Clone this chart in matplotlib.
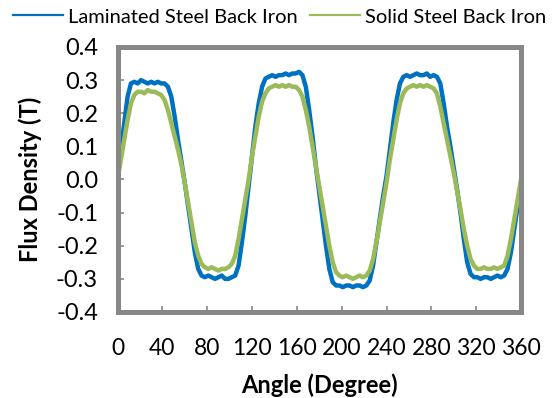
import numpy as np
import matplotlib
matplotlib.use("Agg")
import matplotlib.pyplot as plt
from matplotlib.lines import Line2D

plt.rcParams['font.family'] = ['Lato', 'DejaVu Sans']
plt.rcParams['axes.unicode_minus'] = False

# angle samples (degrees), every 3 degrees
angle = np.arange(0, 361, 3)

# Laminated steel back iron, flux density (T)
laminated = [
    0.00, 0.085, 0.17, 0.25, 0.29, 0.295, 0.29, 0.30, 0.295, 0.29,
    0.295, 0.29, 0.295, 0.29, 0.29, 0.28, 0.25, 0.19, 0.12, 0.055,
    -0.01, -0.08, -0.15, -0.22, -0.27, -0.29, -0.295, -0.29, -0.295, -0.30,
    -0.295, -0.29, -0.30, -0.30, -0.295, -0.29, -0.26, -0.19, -0.11, -0.02,
    0.07, 0.16, 0.23, 0.28, 0.305, 0.31, 0.315, 0.31, 0.315, 0.315,
    0.32, 0.315, 0.32, 0.32, 0.325, 0.315, 0.28, 0.21, 0.13, 0.04,
    -0.04, -0.12, -0.20, -0.27, -0.31, -0.32, -0.32, -0.325, -0.32, -0.32,
    -0.325, -0.32, -0.32, -0.325, -0.32, -0.305, -0.26, -0.19, -0.12, -0.05,
    0.01, 0.09, 0.17, 0.24, 0.29, 0.31, 0.315, 0.31, 0.315, 0.32,
    0.315, 0.315, 0.32, 0.31, 0.315, 0.31, 0.29, 0.23, 0.16, 0.10,
    0.035, -0.03, -0.10, -0.18, -0.25, -0.285, -0.295, -0.295, -0.30, -0.295,
    -0.295, -0.30, -0.295, -0.29, -0.295, -0.29, -0.27, -0.22, -0.15, -0.08,
    -0.01,
]

# Solid steel back iron
solid = [
    0.00, 0.06, 0.12, 0.18, 0.23, 0.255, 0.265, 0.265, 0.26, 0.27,
    0.265, 0.265, 0.26, 0.255, 0.24, 0.21, 0.17, 0.13, 0.09, 0.045,
    -0.01, -0.07, -0.13, -0.19, -0.23, -0.255, -0.265, -0.27, -0.265, -0.27,
    -0.275, -0.27, -0.27, -0.265, -0.255, -0.23, -0.18, -0.12, -0.06, 0.00,
    0.07, 0.13, 0.19, 0.235, 0.26, 0.275, 0.28, 0.285, 0.28, 0.285,
    0.28, 0.285, 0.28, 0.28, 0.27, 0.25, 0.21, 0.16, 0.10, 0.04,
    -0.02, -0.08, -0.14, -0.20, -0.25, -0.28, -0.29, -0.295, -0.29, -0.295,
    -0.30, -0.295, -0.29, -0.295, -0.29, -0.275, -0.24, -0.19, -0.13, -0.07,
    -0.01, 0.06, 0.12, 0.18, 0.23, 0.26, 0.275, 0.28, 0.285, 0.28,
    0.285, 0.28, 0.285, 0.28, 0.275, 0.26, 0.22, 0.17, 0.12, 0.07,
    0.02, -0.035, -0.09, -0.15, -0.20, -0.24, -0.26, -0.27, -0.27, -0.265,
    -0.27, -0.27, -0.265, -0.27, -0.265, -0.26, -0.23, -0.18, -0.12, -0.06,
    0.00,
]

series_names = ['Laminated Steel Back Iron', 'Solid Steel Back Iron']
x_ticks = [0, 40, 80, 120, 160, 200, 240, 280, 320, 360]
y_ticks = [-0.4, -0.3, -0.2, -0.1, 0.0, 0.1, 0.2, 0.3, 0.4]

blue = '#0070C0'
green = '#9BBB59'
grey = '#878787'

fig = plt.figure(figsize=(5.59, 3.98), dpi=100)
W, H = 559, 398
ax = fig.add_axes([117.5 / W, (H - 312) / H, (521 - 117.5) / W, (312 - 47) / H])

ax.plot(angle, laminated, color=blue, lw=3.2)
ax.plot(angle, solid, color=green, lw=3.2)

ax.set_xlim(0, 360)
ax.set_ylim(-0.4, 0.4)
ax.set_xticks(x_ticks)
ax.set_yticks(y_ticks)
ax.set_yticklabels(['{:.1f}'.format(v) for v in y_ticks])

for side, spine in ax.spines.items():
    spine.set_color(grey)
    spine.set_linewidth(3.6)
    spine.set_capstyle('projecting')

ax.tick_params(axis='x', direction='in', length=4.5, width=1.2, color=grey,
               labelsize=16.5, pad=19)
ax.tick_params(axis='y', direction='in', length=4.5, width=1.2, color=grey,
               labelsize=17, pad=14)

ax.set_xlabel('Angle (Degree)', fontsize=17, fontweight='bold', labelpad=10)
ax.set_ylabel('Flux Density (T)', fontsize=17, fontweight='bold', labelpad=10)

# thin legend keys like the original
handles = [Line2D([], [], color=blue, lw=1.6), Line2D([], [], color=green, lw=1.6)]
fig.legend(handles, series_names, loc='center', bbox_to_anchor=(0.5, 1 - 17 / H),
           ncol=2, frameon=False, fontsize=14.5, handlelength=2.5, handletextpad=0.25,
           columnspacing=0.6, borderaxespad=0, borderpad=0)

fig.savefig('out.png', dpi=100)
